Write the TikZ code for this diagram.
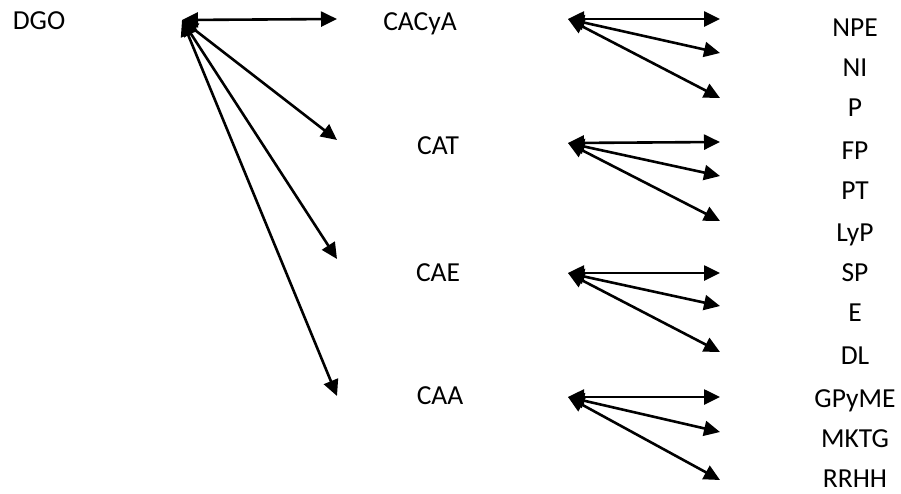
\documentclass[tikz,border=0pt]{standalone}
\usepackage{fontspec}
\setmainfont{Carlito}
\usetikzlibrary{arrows.meta}

\begin{document}
\begin{tikzpicture}[x=1pt, y=-1pt, font=\fontsize{27.5}{32}\selectfont,
    unit/.style={anchor=base, inner sep=0pt},
    link/.style={black, line width=2.6pt,
        {Triangle[length=16pt,width=15pt]}-{Triangle[length=16pt,width=15pt]}}]
    \useasboundingbox (0,0) rectangle (901,493);
    % Direccion
    \node [unit] (dgo) at (39, 29) {DGO};
    \coordinate (o) at (182, 20);
    \coordinate (o1) at (337, 19);
    \coordinate (o2) at (337, 140);
    \coordinate (o3) at (337, 259);
    \coordinate (o4) at (337, 396);
    \draw [link] (o) -- (o1);
    \draw [link] (o) -- (o2);
    \draw [link] (o) -- (o3);
    \draw [link] (o) -- (o4);
    % Coordinaciones
    \node [unit] (cacya) at (420, 30) {CACyA};
    \node [unit] (cat) at (438, 154) {CAT};
    \node [unit] (cae) at (438, 281) {CAE};
    \node [unit] (caa) at (440, 404) {CAA};
    % Areas
    \node [unit] (npe) at (855, 36) {NPE};
    \node [unit] (ni) at (855, 76) {NI};
    \node [unit] (p) at (855, 116) {P};
    \node [unit] (fp) at (855, 159) {FP};
    \node [unit] (pt) at (855, 199) {PT};
    \node [unit] (lyp) at (855, 241) {LyP};
    \node [unit] (sp) at (855, 281) {SP};
    \node [unit] (e) at (855, 321) {E};
    \node [unit] (dl) at (855, 364) {DL};
    \node [unit] (gpyme) at (855, 407) {GPyME};
    \node [unit] (mktg) at (855, 447) {MKTG};
    \node [unit] (rrhh) at (855, 487) {RRHH};
    % CACyA
    \coordinate (a) at (568, 19);
    \coordinate (a1) at (720, 19);
    \coordinate (a2) at (720, 53);
    \coordinate (a3) at (720, 98);
    \draw [link] (a) -- (a1);
    \draw [link] (a) -- (a2);
    \draw [link] (a) -- (a3);
    % CAT
    \coordinate (t) at (568, 143);
    \coordinate (t1) at (720, 142);
    \coordinate (t2) at (720, 176);
    \coordinate (t3) at (720, 221);
    \draw [link] (t) -- (t1);
    \draw [link] (t) -- (t2);
    \draw [link] (t) -- (t3);
    % CAE
    \coordinate (e0) at (568, 273);
    \coordinate (e1) at (720, 273);
    \coordinate (e2) at (720, 306);
    \coordinate (e3) at (720, 352);
    \draw [link] (e0) -- (e1);
    \draw [link] (e0) -- (e2);
    \draw [link] (e0) -- (e3);
    % CAA
    \coordinate (c) at (568, 397);
    \coordinate (c1) at (720, 397);
    \coordinate (c2) at (720, 432);
    \coordinate (c3) at (720, 480);
    \draw [link] (c) -- (c1);
    \draw [link] (c) -- (c2);
    \draw [link] (c) -- (c3);
\end{tikzpicture}
\end{document}
